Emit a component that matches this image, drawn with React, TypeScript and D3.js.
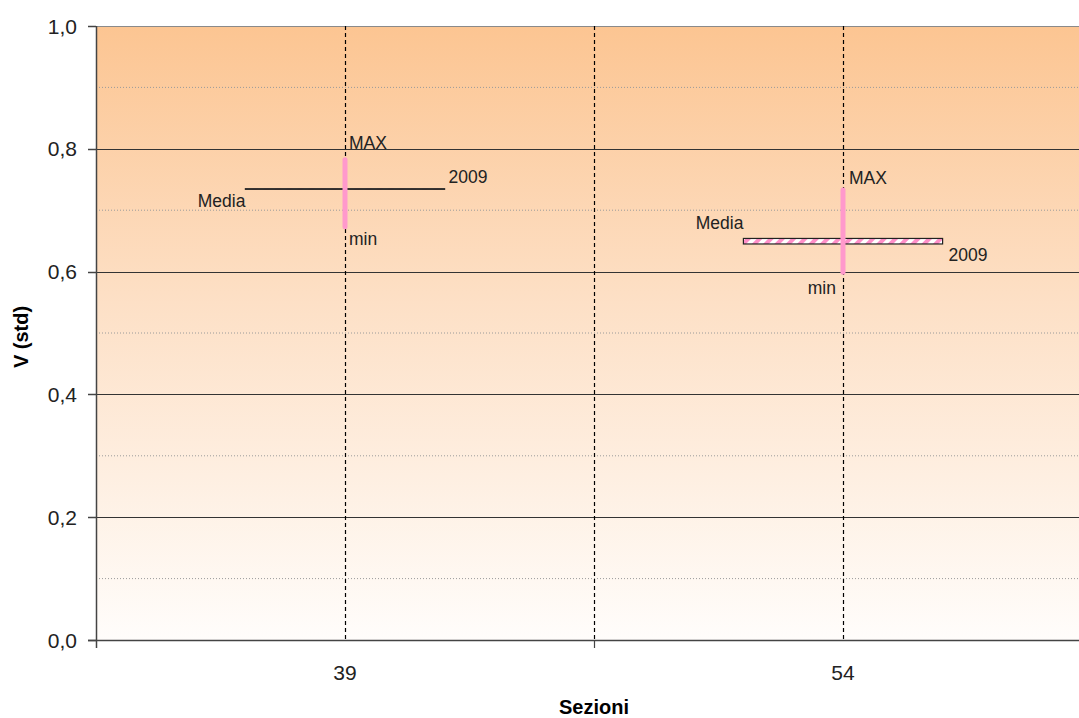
import React, { useEffect, useRef } from "react";
import * as d3 from "d3";

// Sections on the x axis
const sections = ["39", "54"];
// Max and min of V for each section
const maxValues = [0.782, 0.733];
const minValues = [0.673, 0.599];
// Mean band (low / high) for each section
const mediaLow = [0.734, 0.645];
const mediaHigh = [0.735, 0.654];
const seriesName = "2009";
// Y ticks
const yMajorTicks = [0, 0.2, 0.4, 0.6, 0.8, 1.0];
const yMinorTicks = [0.1, 0.3, 0.5, 0.7, 0.9];

const W = 1079;
const H = 718;

export default function App() {
  const ref = useRef<SVGSVGElement | null>(null);

  useEffect(() => {
    const svg = d3.select(ref.current);
    svg.selectAll("*").remove();

    const left = 96, right = 1092, top = 26, bottom = 640;
    const x = d3.scaleBand<string>().domain(sections).range([left, right]).paddingInner(0).paddingOuter(0);
    const y = d3.scaleLinear().domain([0, 1]).range([bottom, top]);
    const font = "'Liberation Sans', Arial, sans-serif";

    const defs = svg.append("defs");
    const grad = defs.append("linearGradient").attr("id", "bg").attr("x1", 0).attr("y1", 0).attr("x2", 0).attr("y2", 1);
    grad.append("stop").attr("offset", "0%").attr("stop-color", "#fcc592");
    grad.append("stop").attr("offset", "45%").attr("stop-color", "#fde0c6");
    grad.append("stop").attr("offset", "100%").attr("stop-color", "#fffdfb");

    const pat = defs.append("pattern").attr("id", "hatch").attr("patternUnits", "userSpaceOnUse")
      .attr("width", 8).attr("height", 8).attr("patternTransform", "rotate(45)");
    pat.append("rect").attr("width", 8).attr("height", 8).attr("fill", "#ffffff");
    pat.append("rect").attr("width", 4).attr("height", 8).attr("fill", "#ff8fc8");

    // plot background
    svg.append("rect").attr("x", left).attr("y", top).attr("width", right - left).attr("height", bottom - top)
      .attr("fill", "url(#bg)");

    // minor gridlines
    svg.selectAll(".minor").data(yMinorTicks).enter().append("line")
      .attr("x1", left).attr("x2", right).attr("y1", (d) => y(d)).attr("y2", (d) => y(d))
      .attr("stroke", "#9a9a9a").attr("stroke-width", 1).attr("stroke-dasharray", "1,2");

    // major gridlines
    svg.selectAll(".major").data(yMajorTicks.filter((d) => d > 0)).enter().append("line")
      .attr("x1", left).attr("x2", right).attr("y1", (d) => Math.round(y(d)) + 0.5).attr("y2", (d) => Math.round(y(d)) + 0.5)
      .attr("stroke", (d) => (d === 1 ? "#8a8a8a" : "#333")).attr("stroke-width", 1);

    // vertical dashed lines at section centers and boundary
    const vlines = [...sections.map((s) => (x(s) as number) + x.bandwidth() / 2), (x(sections[1]) as number)];
    svg.selectAll(".vl").data(vlines).enter().append("line")
      .attr("x1", (d) => Math.round(d) + 0.5).attr("x2", (d) => Math.round(d) + 0.5)
      .attr("y1", top).attr("y2", bottom)
      .attr("stroke", "#000").attr("stroke-width", 1.2).attr("stroke-dasharray", "4,3");

    // axes
    svg.append("line").attr("x1", left + 0.5).attr("x2", left + 0.5).attr("y1", top).attr("y2", bottom + 8)
      .attr("stroke", "#444").attr("stroke-width", 1.5);
    svg.append("line").attr("x1", left - 8).attr("x2", right).attr("y1", bottom + 0.5).attr("y2", bottom + 0.5)
      .attr("stroke", "#444").attr("stroke-width", 1.5);
    svg.selectAll(".yt").data(yMajorTicks).enter().append("line")
      .attr("x1", left - 8).attr("x2", left).attr("y1", (d) => Math.round(y(d)) + 0.5).attr("y2", (d) => Math.round(y(d)) + 0.5)
      .attr("stroke", "#444").attr("stroke-width", 1.5);
    svg.selectAll(".xt").data([x(sections[1]) as number]).enter().append("line")
      .attr("x1", (d) => d + 0.5).attr("x2", (d) => d + 0.5).attr("y1", bottom).attr("y2", bottom + 8)
      .attr("stroke", "#444").attr("stroke-width", 1.2);

    // y tick labels
    svg.selectAll(".yl").data(yMajorTicks).enter().append("text")
      .attr("x", left - 19).attr("y", (d) => y(d) + 7.5).attr("text-anchor", "end")
      .attr("font-family", font).attr("font-size", 21).attr("fill", "#222")
      .text((d) => d3.format(".1f")(d).replace(".", ","));

    // x tick labels
    svg.selectAll(".xl").data(sections).enter().append("text")
      .attr("x", (d) => (x(d) as number) + x.bandwidth() / 2).attr("y", bottom + 40).attr("text-anchor", "middle")
      .attr("font-family", font).attr("font-size", 21).attr("fill", "#222").text((d) => d);

    // axis titles
    svg.append("text").attr("x", (left + 1092) / 2).attr("y", 714).attr("text-anchor", "middle")
      .attr("font-family", font).attr("font-size", 20).attr("font-weight", "bold").attr("fill", "#000").text("Sezioni");
    svg.append("text").attr("transform", `translate(28, 337) rotate(-90)`).attr("text-anchor", "middle")
      .attr("font-family", font).attr("font-size", 20).attr("font-weight", "bold").attr("fill", "#000").text("V (std)");

    const data = sections.map((s, i) => ({
      s, i, max: maxValues[i], min: minValues[i], lo: mediaLow[i], hi: mediaHigh[i],
      cx: (x(s) as number) + x.bandwidth() / 2,
    }));
    const mw = x.bandwidth() * 0.4;

    // mean bands
    svg.selectAll(".media").data(data).enter().append("rect")
      .attr("x", (d) => d.cx - mw / 2).attr("width", mw)
      .attr("y", (d) => y(d.hi)).attr("height", (d) => Math.max(0.5, y(d.lo) - y(d.hi)))
      .attr("fill", "url(#hatch)").attr("stroke", "#222").attr("stroke-width", 1.2);

    // min-max bars
    svg.selectAll(".range").data(data).enter().append("line")
      .attr("x1", (d) => d.cx).attr("x2", (d) => d.cx).attr("y1", (d) => y(d.max)).attr("y2", (d) => y(d.min))
      .attr("stroke", "#ff99cc").attr("stroke-width", 5).attr("stroke-linecap", "round");

    // annotations
    const lab = (tx: number, ty: number, t: string, anchor = "start") =>
      svg.append("text").attr("x", tx).attr("y", ty).attr("text-anchor", anchor)
        .attr("font-family", font).attr("font-size", 17.5).attr("fill", "#222").text(t);

    const a = data[0];
    lab(a.cx + 4, y(a.max) - 11, "MAX");
    lab(a.cx + 4, y(a.min) + 18, "min");
    lab(a.cx - mw / 2, y(a.lo) + 18, "Media", "end");
    lab(a.cx + mw / 2 + 4, y(a.hi) - 6, seriesName);

    const b = data[1];
    lab(b.cx + 6, y(b.max) - 6, "MAX");
    lab(b.cx - 7, y(b.min) + 22, "min", "end");
    lab(b.cx - mw / 2, y(b.hi) - 9, "Media", "end");
    lab(b.cx + mw / 2 + 6, y(b.lo) + 17, seriesName);
  }, []);

  return (
    <div style={{ position: "absolute", left: 0, top: 0 }}>
      <svg ref={ref} width={W} height={H} style={{ display: "block", background: "#fff" }} />
    </div>
  );
}
